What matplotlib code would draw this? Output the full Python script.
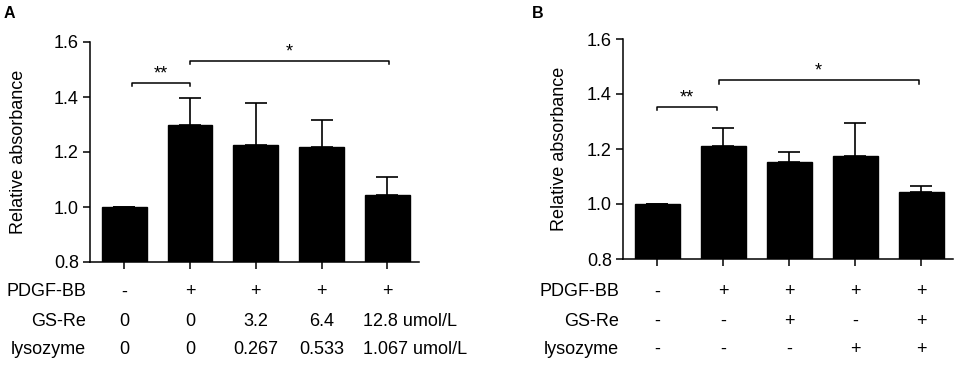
import matplotlib.pyplot as plt
import matplotlib.transforms as mtrans

plt.rcParams['font.family'] = ['Liberation Sans', 'DejaVu Sans']

# panel A data
mean_a = [1.0, 1.30, 1.224, 1.217, 1.044]
err_a = [0.0, 0.095, 0.154, 0.099, 0.065]
pdgf_a = ['-', '+', '+', '+', '+']
gsre_a = ['0', '0', '3.2', '6.4', '12.8 umol/L']
lyso_a = ['0', '0', '0.267', '0.533', '1.067 umol/L']

# panel B data
mean_b = [1.0, 1.212, 1.154, 1.173, 1.044]
err_b = [0.0, 0.063, 0.034, 0.122, 0.023]
pdgf_b = ['-', '+', '+', '+', '+']
gsre_b = ['-', '-', '+', '-', '+']
lyso_b = ['-', '-', '-', '+', '+']

row_names = ['PDGF-BB', 'GS-Re', 'lysozyme']

FS = 13

fig = plt.figure(figsize=(9.57, 3.65), dpi=100)
W, H = 957, 365


def px_axes(l, r, b, t):
    return fig.add_axes([l / W, 1 - b / H, (r - l) / W, (b - t) / H])


def bracket(ax, x1, x2, y, txt):
    ax.plot([x1, x1, x2, x2], [y - 0.012, y, y, y - 0.012], color='black',
            lw=1.1, clip_on=False)
    ax.text((x1 + x2) / 2, y + 0.002, txt, ha='center', va='bottom', fontsize=FS)


def draw_panel(ax, means, errs, rows, label_x_px, ylab_x, stars):
    x = list(range(len(means)))
    ax.bar(x, means, width=0.68, color='black', edgecolor='black')
    ax.errorbar(x, means, yerr=[[0] * len(errs), errs], fmt='none', ecolor='black',
                elinewidth=1.2, capsize=8, capthick=1.2)
    ax.set_ylim(0.8, 1.6)
    ax.set_xlim(-0.52, 4.48)
    ax.set_yticks([0.8, 1.0, 1.2, 1.4, 1.6])
    ax.set_yticklabels(['0.8', '1.0', '1.2', '1.4', '1.6'], fontsize=FS)
    ax.set_xticks(x)
    ax.set_xticklabels([])
    for s in ['top', 'right']:
        ax.spines[s].set_visible(False)
    for s in ['left', 'bottom']:
        ax.spines[s].set_linewidth(1.1)
    ax.tick_params(direction='out', length=5, width=1.1, pad=3)
    ax.set_ylabel('Relative absorbance', fontsize=FS)
    ax.yaxis.set_label_coords(ylab_x, 0.5)

    for (x1, x2, y, txt) in stars:
        bracket(ax, x1, x2, y, txt)

    tr = mtrans.blended_transform_factory(ax.transData, fig.transFigure)
    for name, vals, ypx in zip(row_names, rows, [292, 321, 349]):
        yf = 1 - ypx / H
        fig.text(label_x_px / W, yf, name, ha='right', va='center', fontsize=FS)
        for i, v in enumerate(vals):
            if 'umol/L' in v:
                ax.text(i - 0.37, yf, v, transform=tr, ha='left', va='center', fontsize=FS)
            else:
                ax.text(i, yf, v, transform=tr, ha='center', va='center', fontsize=FS)


ax_a = px_axes(90, 419, 262, 42)
draw_panel(ax_a, mean_a, err_a, [pdgf_a, gsre_a, lyso_a], 86, -0.19,
           [(0.12, 1.0, 1.452, '**'), (1.0, 4.02, 1.531, '*')])

ax_b = px_axes(623, 953, 259, 39)
draw_panel(ax_b, mean_b, err_b, [pdgf_b, gsre_b, lyso_b], 619, -0.166,
           [(0.0, 0.9, 1.353, '**'), (0.93, 3.96, 1.45, '*')])

fig.text(4 / W, 1 - 13 / H, 'A', fontsize=11.5, fontweight='bold', va='center')
fig.text(532 / W, 1 - 13 / H, 'B', fontsize=11.5, fontweight='bold', va='center')

fig.savefig('out.png', dpi=100)
